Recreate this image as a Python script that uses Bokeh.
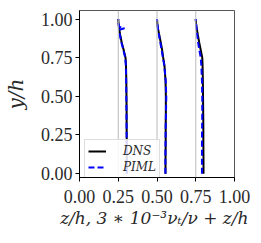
from bokeh.plotting import figure
from bokeh.models import Range1d, FixedTicker, PrintfTickFormatter, Span, Legend, LegendItem
from bokeh.embed import file_html
from bokeh.resources import INLINE

# wall-normal positions y/h
y = [0.00, 0.10, 0.20, 0.30, 0.40, 0.50, 0.60, 0.70, 0.75, 0.80, 0.85, 0.90, 0.93, 0.94, 0.95, 0.97, 1.00]

# station offsets z/h
stations = [0.25, 0.50, 0.75]

# 3e-3*nu_t/nu + z/h profiles
dns1 = [0.305, 0.305, 0.305, 0.304, 0.304, 0.303, 0.302, 0.300, 0.297, 0.285, 0.272, 0.262, 0.257, 0.256, 0.254, 0.252, 0.250]
piml1 = [0.305, 0.305, 0.304, 0.304, 0.303, 0.302, 0.301, 0.299, 0.295, 0.283, 0.270, 0.260, 0.258, 0.290, 0.255, 0.252, 0.250]
dns2 = [0.555, 0.555, 0.556, 0.556, 0.557, 0.557, 0.555, 0.548, 0.540, 0.533, 0.524, 0.514, 0.508, 0.506, 0.504, 0.502, 0.500]
piml2 = [0.554, 0.554, 0.555, 0.556, 0.558, 0.560, 0.556, 0.547, 0.538, 0.530, 0.521, 0.512, 0.507, 0.506, 0.505, 0.503, 0.500]
dns3 = [0.800, 0.800, 0.799, 0.799, 0.798, 0.797, 0.796, 0.794, 0.792, 0.782, 0.772, 0.763, 0.758, 0.756, 0.755, 0.752, 0.750]
piml3 = [0.790, 0.790, 0.790, 0.791, 0.792, 0.792, 0.790, 0.786, 0.782, 0.773, 0.765, 0.759, 0.756, 0.755, 0.754, 0.752, 0.750]

ticks = [0.0, 0.25, 0.5, 0.75, 1.0]
x_label = "z/h,  3 \u2217 10\u207b\u00b3\u03bd\u209c/\u03bd + z/h"
y_label = "y/h"

TXT = "#2a2a2a"

p = figure(width=250, height=233, output_backend="svg", toolbar_location=None,
           x_range=Range1d(0, 1), y_range=Range1d(-0.025, 1.055),
           min_border_left=61, min_border_right=16, min_border_top=10, min_border_bottom=56)
p.background_fill_color = "white"
p.border_fill_color = "white"
p.outline_line_color = "#555555"
p.outline_line_width = 1
p.grid.visible = False

for s in stations:
    p.add_layout(Span(location=s, dimension="height", line_color="#bbbbbb", line_width=1))

r_dns = []
r_piml = []
for d, m in [(dns1, piml1), (dns2, piml2), (dns3, piml3)]:
    r_dns.append(p.line(d, y, line_color="black", line_width=2))
    r_piml.append(p.line(m, y, line_color="#0000ff", line_width=2, line_dash="6 3"))

for ax in (p.xaxis[0], p.yaxis[0]):
    ax.ticker = FixedTicker(ticks=ticks)
    ax.formatter = PrintfTickFormatter(format="%.2f")
    ax.major_label_text_font = "Liberation Serif"
    ax.major_label_text_font_size = "18px"
    ax.major_label_text_color = TXT
    ax.axis_line_color = "black"
    ax.major_tick_line_color = "black"
    ax.major_tick_out = 4
    ax.major_tick_in = 0
    ax.minor_tick_line_color = None
    ax.axis_label_text_font = "DejaVu Serif"
    ax.axis_label_text_font_style = "italic"
    ax.axis_label_text_color = TXT

p.xaxis[0].axis_label = x_label
p.xaxis[0].axis_label_text_font_size = "17px"
p.xaxis[0].major_label_standoff = 8
p.xaxis[0].axis_label_standoff = 2
p.yaxis[0].axis_label = y_label
p.yaxis[0].axis_label_text_font_size = "20px"
p.yaxis[0].major_label_standoff = 3
p.yaxis[0].axis_label_standoff = 10

legend = Legend(items=[LegendItem(label="DNS", renderers=[r_dns[0]]),
                       LegendItem(label="PIML", renderers=[r_piml[0]])],
                location=(5, -2))
legend.label_text_font = "DejaVu Serif"
legend.label_text_font_style = "italic"
legend.label_text_font_size = "12px"
legend.label_text_color = TXT
legend.label_height = 16
legend.glyph_height = 16
legend.glyph_width = 18
legend.label_standoff = 17
legend.padding = 3
legend.margin = 0
legend.spacing = 0
legend.border_line_color = "#bbbbbb"
legend.border_line_width = 1
legend.background_fill_alpha = 0.85
p.add_layout(legend, "center")

open("out.html", "w").write(file_html(p, INLINE))
